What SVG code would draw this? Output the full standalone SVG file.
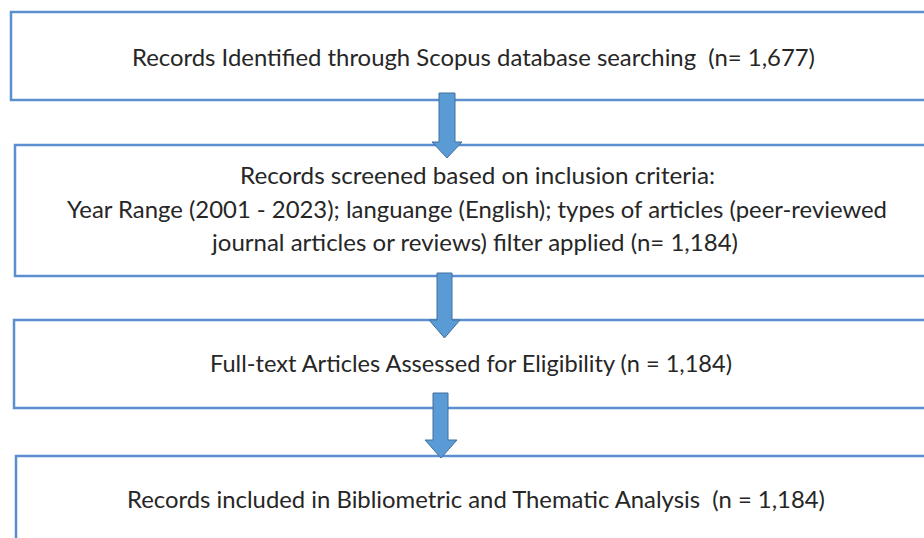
<svg xmlns="http://www.w3.org/2000/svg" width="924" height="538" viewBox="0 0 924 538">
  <style>
    .box { fill: #ffffff; stroke: #5b8fd0; stroke-width: 2.5; }
    .lbl { font-family: Lato, "Open Sans", "Liberation Sans", sans-serif; font-size: 24px; fill: #262626; white-space: pre; }
    .arrow { fill: #5b9bd5; stroke: #41719c; stroke-width: 1; }
  </style>
  <rect width="924" height="538" fill="#ffffff"/>

  <g id="node-identified">
    <rect class="box" x="11" y="12" width="930" height="88"/>
    <text class="lbl" x="132" y="66" textLength="683" lengthAdjust="spacingAndGlyphs" xml:space="preserve">Records Identified through Scopus database searching  (n= 1,677)</text>
  </g>

  <g id="node-screened">
    <rect class="box" x="15" y="145" width="930" height="131"/>
    <text class="lbl" x="240" y="184" textLength="475" lengthAdjust="spacingAndGlyphs">Records screened based on inclusion criteria:</text>
    <text class="lbl" x="67" y="218" textLength="820" lengthAdjust="spacingAndGlyphs">Year Range (2001 - 2023); languange (English); types of articles (peer-reviewed</text>
    <text class="lbl" x="212" y="251" textLength="526" lengthAdjust="spacingAndGlyphs">journal articles or reviews) filter applied (n= 1,184)</text>
  </g>

  <g id="node-assessed">
    <rect class="box" x="14" y="320" width="930" height="88"/>
    <text class="lbl" x="210" y="372" textLength="522" lengthAdjust="spacingAndGlyphs">Full-text Articles Assessed for Eligibility (n = 1,184)</text>
  </g>

  <g id="node-included">
    <rect class="box" x="16" y="456" width="930" height="100"/>
    <text class="lbl" x="127" y="508" textLength="698" lengthAdjust="spacingAndGlyphs" xml:space="preserve">Records included in Bibliometric and Thematic Analysis  (n = 1,184)</text>
  </g>

  <g id="connectors">
    <polygon class="arrow" points="439,93 455,93 455,142 462,142 447,158 432,142 439,142"/>
    <polygon class="arrow" points="437,273 452,273 452,320 460,320 444.5,338 429,320 437,320"/>
    <polygon class="arrow" points="433,393 448,393 448,440 457,440 441,458 425,440 433,440"/>
  </g>
</svg>
